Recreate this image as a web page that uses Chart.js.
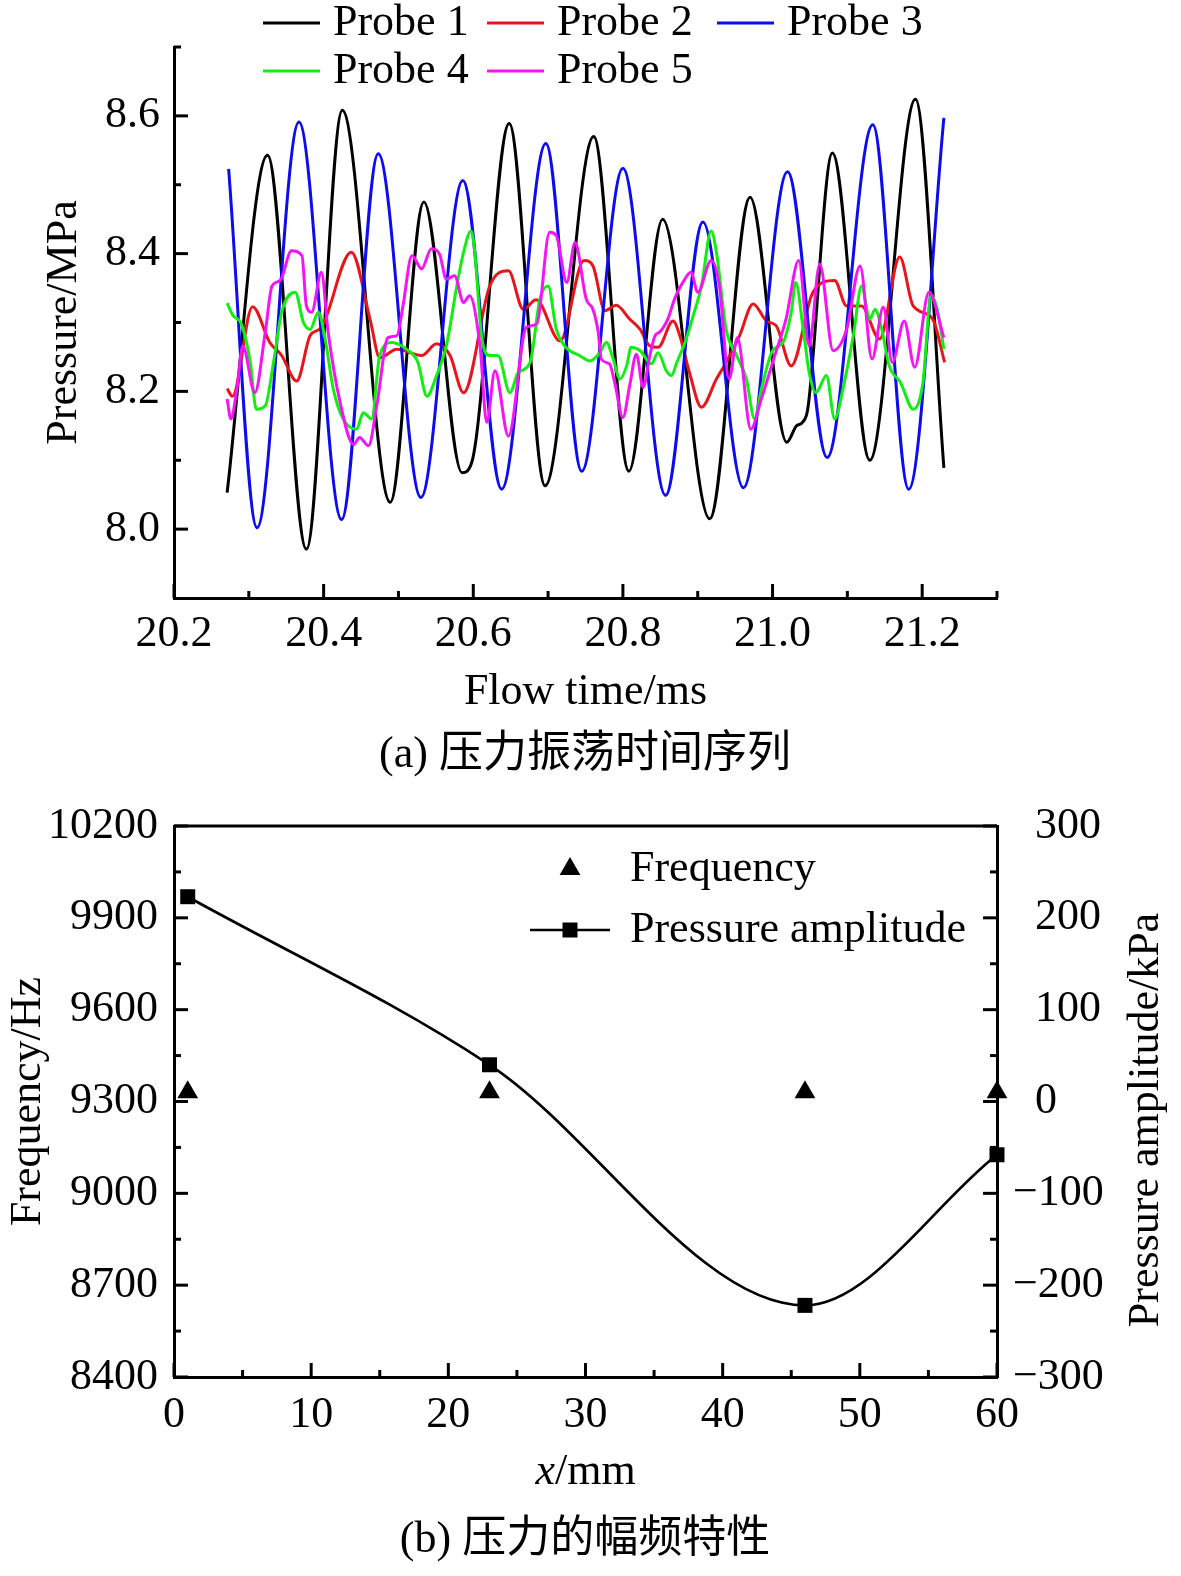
<!DOCTYPE html>
<html>
<head>
<meta charset="utf-8">
<script src="https://cdn.jsdelivr.net/npm/chart.js@4.4.1/dist/chart.umd.min.js"></script>
<style>
html,body{margin:0;padding:0;background:#fff;}
body{width:1181px;height:1576px;position:relative;overflow:hidden;font-family:'Liberation Serif','Times New Roman','Noto Sans CJK SC',serif;}
canvas{position:absolute;left:0;}
#c1{top:0;}
#c2{top:780px;}
.cap{position:absolute;left:0;width:1170px;text-align:center;font-size:44px;line-height:44px;color:#000;white-space:nowrap;}
</style>
</head>
<body>
<canvas id="c1" width="1181" height="740"></canvas>
<canvas id="c2" width="1181" height="740"></canvas>
<div class="cap" style="top:731px">(a) 压力振荡时间序列</div>
<div class="cap" style="top:1516px">(b) 压力的幅频特性</div>
<script>
// ---------------- DATA ----------------
const probeNames = ['Probe 1', 'Probe 2', 'Probe 3', 'Probe 4', 'Probe 5'];

const probe1Time = [20.271, 20.325, 20.377, 20.425, 20.489, 20.534, 20.585, 20.598, 20.648, 20.696, 20.761, 20.808, 20.853, 20.916, 20.970, 21.019, 21.032, 21.040, 21.047, 21.080, 21.130, 21.191, 21.229];
const probe1Pressure = [8.053, 8.543, 7.971, 8.608, 8.039, 8.475, 8.082, 8.097, 8.589, 8.063, 8.570, 8.084, 8.450, 8.015, 8.482, 8.126, 8.150, 8.155, 8.174, 8.546, 8.100, 8.624, 8.089];

const probe2Time = [20.271, 20.278, 20.305, 20.328, 20.344, 20.364, 20.382, 20.397, 20.437, 20.462, 20.475, 20.498, 20.531, 20.551, 20.569, 20.587, 20.622, 20.647, 20.667, 20.684, 20.716, 20.748, 20.760, 20.776, 20.791, 20.809, 20.823, 20.836, 20.847, 20.867, 20.876, 20.889, 20.905, 20.925, 20.938, 20.956, 20.974, 20.992, 21.005, 21.025, 21.054, 21.083, 21.099, 21.119, 21.143, 21.170, 21.188, 21.214, 21.230];
const probe2Pressure = [8.204, 8.193, 8.323, 8.271, 8.252, 8.215, 8.281, 8.293, 8.402, 8.305, 8.249, 8.261, 8.252, 8.269, 8.252, 8.198, 8.353, 8.375, 8.319, 8.333, 8.273, 8.390, 8.382, 8.317, 8.325, 8.305, 8.290, 8.266, 8.264, 8.302, 8.281, 8.227, 8.177, 8.218, 8.242, 8.281, 8.327, 8.302, 8.295, 8.237, 8.344, 8.361, 8.324, 8.324, 8.276, 8.395, 8.324, 8.305, 8.242];

const probe3Time = [20.273, 20.311, 20.367, 20.424, 20.473, 20.530, 20.586, 20.638, 20.697, 20.745, 20.800, 20.857, 20.907, 20.961, 21.020, 21.073, 21.134, 21.182, 21.229];
const probe3Pressure = [8.523, 8.002, 8.591, 8.014, 8.545, 8.046, 8.506, 8.058, 8.560, 8.084, 8.524, 8.049, 8.446, 8.060, 8.519, 8.104, 8.587, 8.058, 8.597];

const probe4Time = [20.271, 20.279, 20.290, 20.302, 20.310, 20.322, 20.333, 20.344, 20.362, 20.373, 20.382, 20.393, 20.402, 20.413, 20.426, 20.444, 20.453, 20.464, 20.475, 20.491, 20.511, 20.526, 20.538, 20.551, 20.564, 20.578, 20.587, 20.597, 20.602, 20.611, 20.622, 20.633, 20.649, 20.660, 20.676, 20.689, 20.700, 20.711, 20.722, 20.729, 20.742, 20.756, 20.769, 20.778, 20.787, 20.796, 20.805, 20.811, 20.823, 20.838, 20.847, 20.858, 20.865, 20.872, 20.883, 20.894, 20.905, 20.918, 20.925, 20.938, 20.952, 20.965, 20.976, 20.985, 21.000, 21.014, 21.025, 21.031, 21.041, 21.049, 21.058, 21.072, 21.083, 21.094, 21.108, 21.119, 21.130, 21.137, 21.145, 21.156, 21.171, 21.188, 21.201, 21.212, 21.221, 21.229];
const probe4Pressure = [8.328, 8.310, 8.298, 8.242, 8.174, 8.179, 8.242, 8.315, 8.344, 8.300, 8.290, 8.315, 8.276, 8.203, 8.160, 8.145, 8.169, 8.160, 8.252, 8.271, 8.261, 8.242, 8.193, 8.223, 8.266, 8.353, 8.402, 8.433, 8.402, 8.281, 8.252, 8.252, 8.198, 8.227, 8.242, 8.334, 8.353, 8.290, 8.266, 8.259, 8.252, 8.244, 8.256, 8.271, 8.247, 8.218, 8.237, 8.264, 8.259, 8.240, 8.256, 8.230, 8.223, 8.242, 8.271, 8.310, 8.353, 8.433, 8.402, 8.290, 8.252, 8.218, 8.160, 8.203, 8.259, 8.271, 8.315, 8.358, 8.290, 8.227, 8.198, 8.223, 8.160, 8.203, 8.281, 8.353, 8.305, 8.319, 8.295, 8.237, 8.213, 8.174, 8.213, 8.340, 8.315, 8.261];

const probe5Time = [20.271, 20.276, 20.284, 20.292, 20.308, 20.322, 20.331, 20.342, 20.357, 20.371, 20.377, 20.384, 20.397, 20.406, 20.422, 20.440, 20.448, 20.460, 20.471, 20.486, 20.498, 20.506, 20.518, 20.531, 20.544, 20.555, 20.564, 20.575, 20.587, 20.595, 20.609, 20.618, 20.629, 20.647, 20.671, 20.685, 20.702, 20.711, 20.725, 20.736, 20.751, 20.760, 20.767, 20.771, 20.782, 20.789, 20.800, 20.809, 20.818, 20.827, 20.836, 20.843, 20.849, 20.860, 20.869, 20.880, 20.891, 20.900, 20.918, 20.929, 20.942, 20.953, 20.971, 20.985, 21.003, 21.018, 21.035, 21.049, 21.063, 21.081, 21.099, 21.117, 21.133, 21.148, 21.160, 21.176, 21.190, 21.209, 21.229];
const probe5Pressure = [8.189, 8.160, 8.203, 8.266, 8.198, 8.286, 8.353, 8.361, 8.404, 8.397, 8.324, 8.315, 8.373, 8.286, 8.184, 8.123, 8.133, 8.121, 8.179, 8.278, 8.281, 8.324, 8.397, 8.378, 8.407, 8.399, 8.363, 8.368, 8.329, 8.339, 8.266, 8.155, 8.230, 8.135, 8.293, 8.298, 8.431, 8.426, 8.358, 8.416, 8.334, 8.319, 8.286, 8.247, 8.240, 8.213, 8.162, 8.208, 8.254, 8.206, 8.252, 8.281, 8.286, 8.305, 8.334, 8.358, 8.373, 8.344, 8.390, 8.353, 8.218, 8.278, 8.145, 8.189, 8.252, 8.305, 8.390, 8.266, 8.385, 8.259, 8.290, 8.382, 8.247, 8.322, 8.242, 8.302, 8.235, 8.344, 8.278];

const timeMajorTicks = [20.2, 20.4, 20.6, 20.8, 21.0, 21.2];
const timeMinorTicks = [20.3, 20.5, 20.7, 20.9, 21.1, 21.3];
const pressureMajorTicks = [8.0, 8.2, 8.4, 8.6];
const pressureMinorTicks = [8.1, 8.3, 8.5, 8.7];

const seriesNames = ['Frequency', 'Pressure amplitude'];
const positionMm = [1, 23, 46, 60];
const frequencyHz = [9330, 9330, 9330, 9330];
const amplitudeKPa = [223, 40, -222, -58];

const xMajorTicks = [0, 10, 20, 30, 40, 50, 60];
const xMinorTicks = [5, 15, 25, 35, 45, 55];
const freqMajorTicks = [8400, 8700, 9000, 9300, 9600, 9900, 10200];
const freqMinorTicks = [8550, 8850, 9150, 9450, 9750, 10050];
const ampMajorTicks = [-300, -200, -100, 0, 100, 200, 300];
const ampMinorTicks = [-250, -150, -50, 50, 150, 250];

// ---------------- HELPERS ----------------
const FONT = "'Liberation Serif', 'Times New Roman', serif";
const FS = 44;
const toXY = (xs, ys) => xs.map((x, i) => ({x: x, y: ys[i]}));
const asTicks = arr => arr.map(v => ({value: v}));

const inwardTicks = {
  id: 'inwardTicks',
  afterDraw(chart, args, opts) {
    const ctx = chart.ctx, a = chart.chartArea;
    ctx.save();
    ctx.strokeStyle = '#000';
    ctx.lineWidth = opts.width;
    ctx.lineCap = 'butt';
    if (opts.topBorder) {
      ctx.beginPath();
      ctx.moveTo(a.left, a.top);
      ctx.lineTo(a.right, a.top);
      ctx.stroke();
    }
    for (const sp of opts.specs) {
      const sc = chart.scales[sp.scale];
      const draw = (v, len) => {
        const p = sc.getPixelForValue(v);
        ctx.beginPath();
        if (sp.side === 'bottom') { ctx.moveTo(p, a.bottom); ctx.lineTo(p, a.bottom - len); }
        else if (sp.side === 'left') { ctx.moveTo(a.left, p); ctx.lineTo(a.left + len, p); }
        else { ctx.moveTo(a.right, p); ctx.lineTo(a.right - len, p); }
        ctx.stroke();
      };
      sp.major.forEach(v => draw(v, opts.majorLen));
      sp.minor.forEach(v => draw(v, opts.minorLen));
    }
    ctx.restore();
  }
};

const probeLegend = {
  id: 'probeLegend',
  afterDraw(chart, args, opts) {
    const ctx = chart.ctx;
    ctx.save();
    ctx.font = FS + 'px ' + FONT;
    ctx.textBaseline = 'middle';
    ctx.textAlign = 'left';
    chart.data.datasets.forEach((ds, i) => {
      const s = opts.slots[i];
      ctx.strokeStyle = ds.borderColor;
      ctx.lineWidth = 3;
      ctx.beginPath();
      ctx.moveTo(s[0], s[1]);
      ctx.lineTo(s[0] + opts.lineLen, s[1]);
      ctx.stroke();
      ctx.fillStyle = '#000';
      ctx.fillText(ds.label, s[0] + opts.textGap, s[1]);
    });
    ctx.restore();
  }
};

const ampLegend = {
  id: 'ampLegend',
  afterDraw(chart, args, opts) {
    const ctx = chart.ctx;
    const ds = chart.data.datasets;
    ctx.save();
    ctx.fillStyle = '#000';
    ctx.strokeStyle = '#000';
    Chart.helpers.drawPoint(ctx, {pointStyle: 'triangle', radius: 12, rotation: 0, borderWidth: 0}, opts.markerX, opts.row1);
    ctx.lineWidth = 2.7;
    ctx.beginPath();
    ctx.moveTo(opts.markerX - 40, opts.row2);
    ctx.lineTo(opts.markerX + 40, opts.row2);
    ctx.stroke();
    Chart.helpers.drawPoint(ctx, {pointStyle: 'rect', radius: 10.6, rotation: 0, borderWidth: 0}, opts.markerX, opts.row2);
    ctx.font = FS + 'px ' + FONT;
    ctx.textBaseline = 'middle';
    ctx.textAlign = 'left';
    ctx.fillText(ds[0].label, opts.textX, opts.row1);
    ctx.fillText(ds[1].label, opts.textX, opts.row2);
    // right axis title (reads bottom to top)
    ctx.save();
    ctx.translate(opts.rightTitleX, opts.rightTitleY);
    ctx.rotate(-Math.PI / 2);
    ctx.textAlign = 'center';
    ctx.fillText('Pressure amplitude/kPa', 0, 0);
    ctx.restore();
    // x axis title with italic x
    const a = chart.chartArea;
    const cx = (a.left + a.right) / 2;
    ctx.font = 'italic ' + FS + 'px ' + FONT;
    const w1 = ctx.measureText('x').width;
    ctx.font = FS + 'px ' + FONT;
    const w2 = ctx.measureText('/mm').width;
    const x0 = cx - (w1 + w2) / 2;
    ctx.font = 'italic ' + FS + 'px ' + FONT;
    ctx.fillText('x', x0, opts.xTitleY);
    ctx.font = FS + 'px ' + FONT;
    ctx.fillText('/mm', x0 + w1, opts.xTitleY);
    ctx.restore();
  }
};

Chart.defaults.font.family = FONT;
Chart.defaults.color = '#000';

const tickFont = {size: FS, family: FONT};
const noGrid = {display: false, drawTicks: false, drawOnChartArea: false};

// ---------------- CHART (a) ----------------
const colors = ['#000000', '#e8161c', '#0c0cee', '#12ee12', '#f514f5'];
const probeTimes = [probe1Time, probe2Time, probe3Time, probe4Time, probe5Time];
const probePressures = [probe1Pressure, probe2Pressure, probe3Pressure, probe4Pressure, probe5Pressure];

new Chart(document.getElementById('c1'), {
  type: 'line',
  data: {
    datasets: probeNames.map((name, i) => ({
      label: name,
      data: toXY(probeTimes[i], probePressures[i]),
      borderColor: colors[i],
      backgroundColor: colors[i],
      borderWidth: 3,
      pointRadius: 0,
      cubicInterpolationMode: 'monotone',
      order: 4 - i
    }))
  },
  options: {
    responsive: false,
    animation: false,
    devicePixelRatio: 1,
    events: [],
    layout: {padding: {top: 47, right: 184, left: 0, bottom: 0}},
    plugins: {
      legend: {display: false},
      tooltip: {enabled: false},
      inwardTicks: {
        width: 3, majorLen: 14, minorLen: 7, topBorder: false,
        specs: [
          {scale: 'x', side: 'bottom', major: timeMajorTicks, minor: timeMinorTicks},
          {scale: 'y', side: 'left', major: pressureMajorTicks, minor: pressureMinorTicks}
        ]
      },
      probeLegend: {
        slots: [[263, 23], [487, 23], [717, 23], [263, 71], [487, 71]],
        lineLen: 57, textGap: 70
      }
    },
    scales: {
      x: {
        type: 'linear', min: 20.2, max: 21.3,
        afterBuildTicks: s => { s.ticks = asTicks(timeMajorTicks); },
        afterFit: s => { s.height = 142; },
        grid: noGrid,
        border: {display: true, width: 3, color: '#000'},
        ticks: {padding: 10, font: tickFont, color: '#000', maxRotation: 0, autoSkip: false, callback: v => Number(v).toFixed(1)},
        title: {display: true, text: 'Flow time/ms', font: tickFont, color: '#000', padding: {top: 0, bottom: 21}}
      },
      y: {
        type: 'linear', min: 7.9, max: 8.7,
        afterBuildTicks: s => { s.ticks = asTicks(pressureMajorTicks); },
        afterFit: s => { s.width = 174; },
        grid: noGrid,
        border: {display: true, width: 3, color: '#000'},
        ticks: {padding: 14, font: tickFont, color: '#000', autoSkip: false, callback: v => Number(v).toFixed(1)},
        title: {display: true, text: 'Pressure/MPa', font: tickFont, color: '#000', padding: {top: 38, bottom: 0}}
      }
    }
  },
  plugins: [inwardTicks, probeLegend]
});

// ---------------- CHART (b) ----------------
new Chart(document.getElementById('c2'), {
  type: 'line',
  data: {
    datasets: [
      {
        label: seriesNames[0],
        data: toXY(positionMm, frequencyHz),
        yAxisID: 'y',
        showLine: false,
        pointStyle: 'triangle',
        pointRadius: 12,
        pointBorderWidth: 0,
        pointBackgroundColor: '#000',
        borderColor: '#000',
        backgroundColor: '#000',
        clip: false
      },
      {
        label: seriesNames[1],
        data: toXY(positionMm, amplitudeKPa),
        yAxisID: 'y1',
        showLine: true,
        borderColor: '#000',
        backgroundColor: '#000',
        borderWidth: 2.7,
        pointStyle: 'rect',
        pointRadius: 10.6,
        pointBorderWidth: 0,
        pointBackgroundColor: '#000',
        cubicInterpolationMode: 'monotone',
        clip: false
      }
    ]
  },
  options: {
    responsive: false,
    animation: false,
    devicePixelRatio: 1,
    events: [],
    layout: {padding: {top: 46, right: 0, left: 0, bottom: 0}},
    plugins: {
      legend: {display: false},
      tooltip: {enabled: false},
      inwardTicks: {
        width: 3, majorLen: 14, minorLen: 7, topBorder: true,
        specs: [
          {scale: 'x', side: 'bottom', major: xMajorTicks, minor: xMinorTicks},
          {scale: 'y', side: 'left', major: freqMajorTicks, minor: freqMinorTicks},
          {scale: 'y1', side: 'right', major: ampMajorTicks, minor: ampMinorTicks}
        ]
      },
      ampLegend: {markerX: 570, row1: 89, row2: 150, textX: 630, rightTitleX: 1146, rightTitleY: 340, xTitleY: 692}
    },
    scales: {
      x: {
        type: 'linear', min: 0, max: 60,
        afterBuildTicks: s => { s.ticks = asTicks(xMajorTicks); },
        afterFit: s => { s.height = 143; },
        grid: noGrid,
        border: {display: true, width: 3, color: '#000'},
        ticks: {padding: 12, font: tickFont, color: '#000', maxRotation: 0, autoSkip: false},
        title: {display: false}
      },
      y: {
        type: 'linear', position: 'left', min: 8400, max: 10200,
        afterBuildTicks: s => { s.ticks = asTicks(freqMajorTicks); },
        afterFit: s => { s.width = 174; },
        grid: noGrid,
        border: {display: true, width: 3, color: '#000'},
        ticks: {padding: 16, font: tickFont, color: '#000', autoSkip: false, callback: v => String(v)},
        title: {display: true, text: 'Frequency/Hz', font: tickFont, color: '#000', padding: {top: 2, bottom: 0}}
      },
      y1: {
        type: 'linear', position: 'right', min: -300, max: 300,
        afterBuildTicks: s => { s.ticks = asTicks(ampMajorTicks); },
        afterFit: s => { s.width = 184; },
        grid: noGrid,
        border: {display: true, width: 3, color: '#000'},
        ticks: {padding: 16, font: tickFont, color: '#000', autoSkip: false, callback: v => v < 0 ? '\u2212' + Math.abs(v) : '\u2007' + v},
        title: {display: false}
      }
    }
  },
  plugins: [inwardTicks, ampLegend]
});
</script>
</body>
</html>
